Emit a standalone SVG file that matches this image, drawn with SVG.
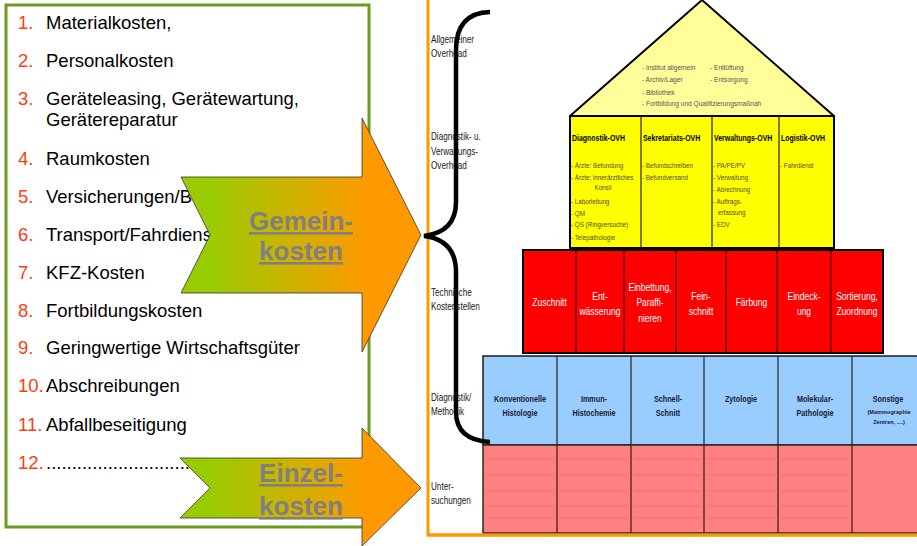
<svg xmlns="http://www.w3.org/2000/svg" width="917" height="546" viewBox="0 0 917 546">
<defs>
<linearGradient id="gArrow" x1="0" y1="0" x2="1" y2="0">
<stop offset="0.12" stop-color="#99cc00"/>
<stop offset="0.78" stop-color="#ff9900"/>
</linearGradient>
<style>
.f{font-family:"Liberation Sans",Arial,sans-serif}
.lst{font-size:18.5px;fill:#000}
.num{fill:#ff3c0f}
.arw{stroke:#333;stroke-width:0.8;fill:url(#gArrow)}
.arwt{font-size:26px;font-weight:bold;fill:#808080;text-anchor:middle;text-decoration:underline}
.lbl{font-size:10.2px;fill:#1a1a1a}
.roof{font-size:7.5px;fill:#555}
.yh{font-size:8.5px;font-weight:bold;fill:#000}
.yi{font-size:7px;fill:#4d4d33}
.rt{font-size:10px;fill:#fff;text-anchor:middle}
.bt{font-size:9.3px;font-weight:bold;fill:#1a1a33;text-anchor:middle}
.bs{font-size:5.6px;font-weight:bold;fill:#1a1a33;text-anchor:middle}
.div{stroke:#222;stroke-width:1.2}
.pl{stroke:#e87474;stroke-width:1}
</style>
</defs>

<g id="kostenliste" class="f">
<rect x="6" y="5" width="363" height="522" fill="#fff" stroke="#6c9c1c" stroke-width="3"/>
<g class="lst">
<text x="18" y="29"><tspan class="num">1.</tspan><tspan x="46">Materialkosten,</tspan></text>
<text x="18" y="67"><tspan class="num">2.</tspan><tspan x="46">Personalkosten</tspan></text>
<text x="18" y="105"><tspan class="num">3.</tspan><tspan x="46">Geräteleasing, Gerätewartung,</tspan></text>
<text x="46" y="126">Gerätereparatur</text>
<text x="18" y="165"><tspan class="num">4.</tspan><tspan x="46">Raumkosten</tspan></text>
<text x="18" y="203"><tspan class="num">5.</tspan><tspan x="46">Versicherungen/B</tspan></text>
<text x="18" y="241"><tspan class="num">6.</tspan><tspan x="46">Transport/Fahrdienst</tspan></text>
<text x="18" y="279"><tspan class="num">7.</tspan><tspan x="46">KFZ-Kosten</tspan></text>
<text x="18" y="317"><tspan class="num">8.</tspan><tspan x="46">Fortbildungskosten</tspan></text>
<text x="18" y="354"><tspan class="num">9.</tspan><tspan x="46">Geringwertige Wirtschaftsgüter</tspan></text>
<text x="18" y="392"><tspan class="num">10.</tspan><tspan x="46">Abschreibungen</tspan></text>
<text x="18" y="431"><tspan class="num">11.</tspan><tspan x="46">Abfallbeseitigung</tspan></text>
<text x="18" y="469"><tspan class="num">12.</tspan><tspan x="46">..............................</tspan></text>
</g>
</g>

<g id="panel">
<rect x="428" y="-10" width="500" height="545" fill="#fff" stroke="#ff9900" stroke-width="3"/>
</g>

<g id="ebenen-labels" class="f lbl" transform="scale(0.8 1)">
<text x="538.75" y="43">Allgemeiner</text>
<text x="538.75" y="57">Overhead</text>
<text x="538.75" y="140.5">Diagnostik- u.</text>
<text x="538.75" y="155">Verwaltungs-</text>
<text x="538.75" y="169.5">Overhead</text>
<text x="538.75" y="296">Technische</text>
<text x="538.75" y="310.5">Kostenstellen</text>
<text x="538.75" y="401">Diagnostik/</text>
<text x="538.75" y="415.5">Methodik</text>
<text x="538.75" y="490">Unter-</text>
<text x="538.75" y="504.5">suchungen</text>
</g>

<g id="dach" class="f">
<polygon points="570,116 702,0 834,116" fill="#ffff99" stroke="#000" stroke-width="2" stroke-linejoin="round"/>
<g class="roof" transform="scale(0.88 1)">
<text x="729.5" y="70">- Institut allgemein</text>
<text x="729.5" y="82">- Archiv/Lager</text>
<text x="729.5" y="95">- Bibliothek</text>
<text x="729.5" y="106">- Fortbildung und Qualifizierungsmaßnah</text>
<text x="806.8" y="70">- Entlüftung</text>
<text x="806.8" y="82">- Entsorgung</text>
</g>
</g>

<g id="ovh-reihe" class="f">
<rect x="570" y="116" width="264" height="132" fill="#ffff00" stroke="#000" stroke-width="2"/>
<line class="div" x1="641" y1="116" x2="641" y2="248"/>
<line class="div" x1="712" y1="116" x2="712" y2="248"/>
<line class="div" x1="779" y1="116" x2="779" y2="248"/>
<g class="yh" transform="scale(0.82 1)">
<text id="diagnostik-ovh" x="697.6" y="141">Diagnostik-OVH</text>
<text id="sekretariats-ovh" x="784.1" y="141">Sekretariats-OVH</text>
<text id="verwaltungs-ovh" x="870.7" y="141">Verwaltungs-OVH</text>
<text id="logistik-ovh" x="952.4" y="141">Logistik-OVH</text>
</g>
<g class="yi" transform="scale(0.9 1)">
<text x="634.4" y="168">- Ärzte: Befundung</text>
<text x="634.4" y="180">- Ärzte: innerärztliches</text>
<text x="670" y="190" text-anchor="middle">Konsil</text>
<text x="634.4" y="204.5">- Laborleitung</text>
<text x="634.4" y="216">- QM</text>
<text x="634.4" y="227.5">- QS (Ringversuche)</text>
<text x="634.4" y="240.5">- Telepathologie</text>
<text x="713.3" y="168">- Befundschreiben</text>
<text x="713.3" y="180">- Befundversand</text>
<text x="792.2" y="168">- PA/PE/PV</text>
<text x="792.2" y="180">- Verwaltung</text>
<text x="792.2" y="192">- Abrechnung</text>
<text x="792.2" y="204">- Auftrags-</text>
<text x="797.8" y="215.5">erfassung</text>
<text x="792.2" y="227.5">- EDV</text>
<text x="866.7" y="168">- Fahrdienst</text>
</g>
</g>

<g id="kostenstellen" class="f">
<rect x="523" y="250" width="360" height="103" fill="#ff0000" stroke="#000" stroke-width="2"/>
<g stroke="#3a0000" stroke-width="1.2">
<line x1="576" y1="250" x2="576" y2="353"/>
<line x1="624" y1="250" x2="624" y2="353"/>
<line x1="676" y1="250" x2="676" y2="353"/>
<line x1="726" y1="250" x2="726" y2="353"/>
<line x1="777" y1="250" x2="777" y2="353"/>
<line x1="831" y1="250" x2="831" y2="353"/>
</g>
<g class="rt" transform="scale(0.85 1)">
<text x="646.5" y="306">Zuschnitt</text>
<text x="705.9" y="300">Ent-</text>
<text x="705.9" y="315">wässerung</text>
<text x="764.7" y="291">Einbettung,</text>
<text x="764.7" y="306">Paraffi-</text>
<text x="764.7" y="322">nieren</text>
<text x="824.7" y="300">Fein-</text>
<text x="824.7" y="315">schnitt</text>
<text x="884.1" y="306">Färbung</text>
<text x="945.9" y="300">Eindeck-</text>
<text x="945.9" y="315">ung</text>
<text x="1008.2" y="300">Sortierung,</text>
<text x="1008.2" y="315">Zuordnung</text>
</g>
</g>

<g id="methodik" class="f">
<rect x="483" y="356" width="450" height="89" fill="#99ccff" stroke="#1a1a1a" stroke-width="1.5"/>
<g class="div">
<line x1="557" y1="356" x2="557" y2="445"/>
<line x1="631" y1="356" x2="631" y2="445"/>
<line x1="704" y1="356" x2="704" y2="445"/>
<line x1="778" y1="356" x2="778" y2="445"/>
<line x1="852" y1="356" x2="852" y2="445"/>
</g>
<g class="bt" transform="scale(0.78 1)">
<text x="666.7" y="401.6">Konventionelle</text>
<text x="666.7" y="416">Histologie</text>
<text x="761.5" y="401.6">Immun-</text>
<text x="761.5" y="416">Histochemie</text>
<text x="856.4" y="401.6">Schnell-</text>
<text x="856.4" y="416">Schnitt</text>
<text x="950" y="401.6">Zytologie</text>
<text x="1044.9" y="401.6">Molekular-</text>
<text x="1044.9" y="416">Pathologie</text>
<text x="1138.5" y="401.6">Sonstige</text>
</g>
<text class="bs" x="889" y="414">(Mammographie</text>
<text class="bs" x="889" y="423.5">Zentren, ....)</text>
</g>

<g id="untersuchungen">
<rect x="483" y="445" width="450" height="88" fill="#ff8080" stroke="#2a2a2a" stroke-width="1.5"/>
<g class="pl">
<path d="M486,459H554M486,475H554M486,491H554M486,506H554M486,518H554"/>
<path d="M560,459H628M560,475H628M560,491H628M560,506H628M560,518H628"/>
<path d="M634,459H701M634,475H701M634,491H701M634,506H701M634,518H701"/>
<path d="M707,459H775M707,475H775M707,491H775M707,506H775M707,518H775"/>
<path d="M781,459H849M781,475H849M781,491H849M781,506H849M781,518H849"/>
</g>
<g stroke="#4a2020" stroke-width="1.3">
<line x1="557" y1="445" x2="557" y2="533"/>
<line x1="631" y1="445" x2="631" y2="533"/>
<line x1="704" y1="445" x2="704" y2="533"/>
<line x1="778" y1="445" x2="778" y2="533"/>
<line x1="852" y1="445" x2="852" y2="533"/>
</g>
<line x1="428" y1="535" x2="917" y2="535" stroke="#ff9900" stroke-width="3"/>
</g>

<g id="connectors">
<path id="klammer" d="M490,12 Q456,13 456,50 L456,202 Q456,232 424,236 Q456,240 456,272 L456,412 Q456,440 490,442" fill="none" stroke="#000" stroke-width="4.5" stroke-linecap="butt"/>
</g>

<g id="gemeinkosten" class="f">
<polygon class="arw" points="181,177 362,177 362,118 421,235 362,352 362,293 181,293 210,235"/>
<text class="arwt" x="301" y="230">Gemein-</text>
<text class="arwt" x="301" y="260">kosten</text>
</g>

<g id="einzelkosten" class="f">
<polygon class="arw" points="180,458 362,458 362,428 421,488 362,546 362,518 180,518 210,488"/>
<text class="arwt" x="301" y="482">Einzel-</text>
<text class="arwt" x="301" y="515">kosten</text>
</g>
</svg>
